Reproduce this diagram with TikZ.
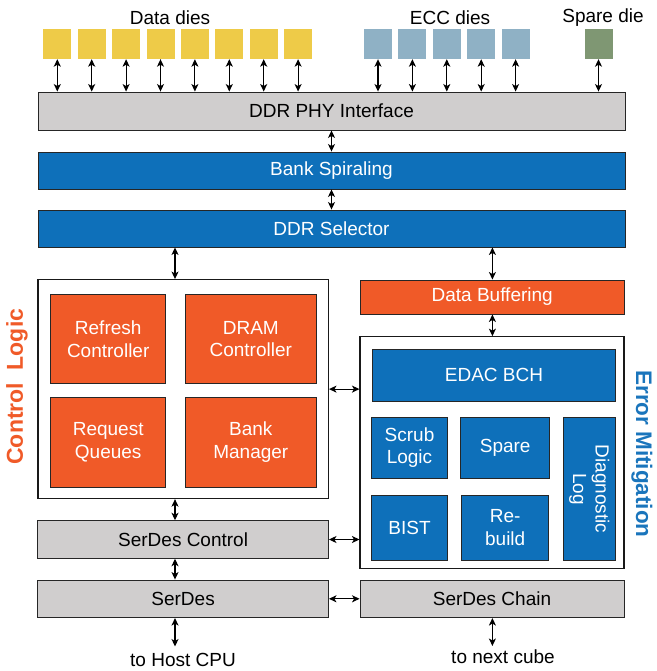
\documentclass[tikz,border=0pt]{standalone}
\usepackage{fontspec}
\setmainfont{Liberation Sans}
\usetikzlibrary{arrows.meta}
\definecolor{phygray}{HTML}{D0CECE}
\definecolor{unitblue}{HTML}{0E70BA}
\definecolor{unitorange}{HTML}{F05A28}
\definecolor{dieyellow}{HTML}{EECB48}
\definecolor{dieecc}{HTML}{8FB1C5}
\definecolor{diespare}{HTML}{7F9773}
\definecolor{labelblue}{HTML}{1A75BC}

\begin{document}
\begin{tikzpicture}[x=1pt,y=-1pt,
    font=\fontsize{19}{22.5}\selectfont,
    every node/.style={inner sep=0pt, align=center},
    grayblk/.style={draw=black!85, fill=phygray, line width=0.9pt},
    blueblk/.style={draw=black!85, fill=unitblue, text=white, line width=0.9pt},
    orangeblk/.style={draw=black!85, fill=unitorange, text=white, line width=0.9pt},
    frame/.style={draw=black!90, line width=1.1pt},
    die/.style={minimum width=28, minimum height=30},
    link/.style={{Stealth[length=7.5pt,width=7pt,inset=2pt]}-{Stealth[length=7.5pt,width=7pt,inset=2pt]}, line width=1.1pt}]
    \useasboundingbox (0,0) rectangle (656,671);

    % dies
    \node (datalbl) at (170,18) {Data dies};
    \node (ecclbl) at (450,18) {ECC dies};
    \node (sparelbl) at (603,18) {Spare die};
    \foreach \i in {0,...,7}
        \node[die, fill=dieyellow] (dd\i) at ({57.3+34.4*\i},44) {};
    \foreach \i in {0,...,4}
        \node[die, fill=dieecc] (ed\i) at ({378+34.4*\i},44) {};
    \node[die, fill=diespare] (sd) at (598.5,44) {};

    % memory side
    \node[grayblk, minimum width=587, minimum height=38] (phy) at (331.5,111) {DDR PHY Interface};
    \node[blueblk, minimum width=587, minimum height=37] (bank) at (331.5,170.5) {Bank Spiraling};
    \node[blueblk, minimum width=587, minimum height=37] (sel) at (331.5,228.5) {DDR Selector};

    % control logic
    \node[frame, minimum width=290.5, minimum height=219] (ctrl) at (183.2,389.1) {};
    \node[orangeblk, minimum width=115, minimum height=89.4] (refresh) at (108.2,339) {Refresh\\Controller};
    \node[orangeblk, minimum width=130.3, minimum height=89.4] (dram) at (250.8,339) {DRAM\\Controller};
    \node[orangeblk, minimum width=115, minimum height=89.4] (queue) at (108.2,442.3) {Request\\Queues};
    \node[orangeblk, minimum width=130.3, minimum height=89.4] (bankmgr) at (250.8,442.3) {Bank\\Manager};
    \node[rotate=90, text=unitorange, font=\fontsize{23}{26}\selectfont\bfseries] (ctrllbl) at (17,386.7) {Control\ \ Logic};

    % error mitigation
    \node[orangeblk, minimum width=264, minimum height=34] (buf) at (492.2,297) {Data Buffering};
    \node[frame, minimum width=264, minimum height=231.6] (err) at (492,452.5) {};
    \node[blueblk, minimum width=242.6, minimum height=52] (edac) at (494,375.3) {EDAC BCH};
    \node[blueblk, minimum width=75.6, minimum height=61] (scrub) at (409.5,447.8) {Scrub\\Logic};
    \node[blueblk, minimum width=89, minimum height=61] (spare) at (505.2,447.8) {Spare};
    \node[blueblk, minimum width=75.6, minimum height=65] (bist) at (409.5,527.5) {BIST};
    \node[blueblk, minimum width=87, minimum height=65] (rebuild) at (505.2,527.5) {Re-\\build};
    \node[blueblk, rotate=-90, minimum width=143.4, minimum height=52.3] (diag) at (589.2,489) {Diagnostic\\Log};
    \node[rotate=-90, text=labelblue, font=\fontsize{22.5}{26}\selectfont\bfseries] (errlbl) at (642,454) {Error Mitigation};

    % serdes
    \node[grayblk, minimum width=290.8, minimum height=37.6] (sdc) at (183.1,539.5) {SerDes Control};
    \node[grayblk, minimum width=290.8, minimum height=37.6] (serdes) at (183.1,598.8) {SerDes};
    \node[grayblk, minimum width=264, minimum height=37.6] (chain) at (492,598.8) {SerDes Chain};
    \node (host) at (183,660) {to Host CPU};
    \node (next) at (503,657) {to next cube};
    \coordinate (lx) at (175,0);
    \coordinate (rx) at (492.4,0);
    \coordinate (hostend) at (175,646.5);
    \coordinate (nextend) at (492.4,646);

    % connections
    \foreach \i in {0,...,7}
        \draw[link] (dd\i) -- (dd\i |- phy.north);
    \foreach \i in {0,...,4}
        \draw[link] (ed\i) -- (ed\i |- phy.north);
    \draw[link] (sd) -- (sd |- phy.north);
    \draw (phy) edge [link] (bank);
    \draw (bank) edge [link] (sel);
    \draw (sel.south -| lx) edge [link] (ctrl.north -| lx);
    \draw (sel.south -| rx) edge [link] (buf.north -| rx);
    \draw (buf.south -| rx) edge [link] (err.north -| rx);
    \draw (ctrl.east) edge [link] (ctrl.east -| err.west);
    \draw (sdc.east) edge [link] (sdc.east -| err.west);
    \draw (ctrl.south -| lx) edge [link] (sdc.north -| lx);
    \draw (sdc.south -| lx) edge [link] (serdes.north -| lx);
    \draw (serdes) edge [link] (chain);
    \draw (serdes.south -| lx) edge [link] (hostend);
    \draw (chain.south -| rx) edge [link] (nextend);
\end{tikzpicture}
\end{document}
